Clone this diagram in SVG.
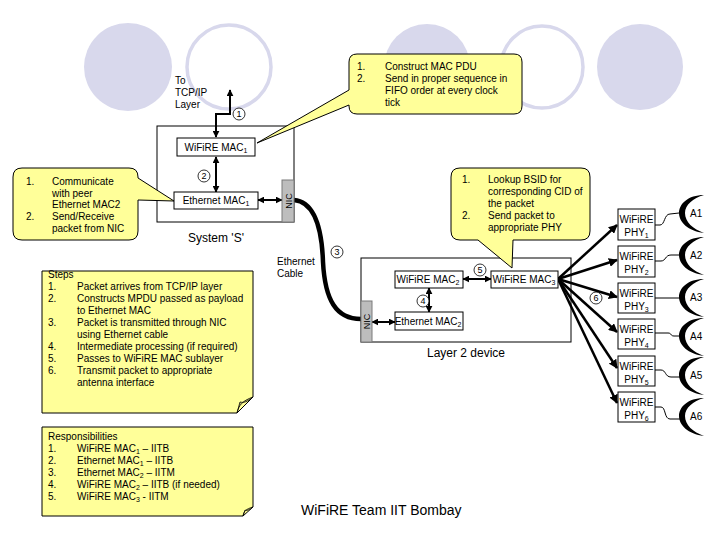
<svg xmlns="http://www.w3.org/2000/svg" width="720" height="540" viewBox="0 0 720 540">
<style>
text{font-family:"Liberation Sans",Arial,sans-serif;font-size:10px;fill:#000}
.box{fill:#fff;stroke:#000;stroke-width:1}
.frame{fill:none;stroke:#000;stroke-width:1}
.call{fill:#ffff99;stroke:#000;stroke-width:1}
.nic{fill:#bdbdbd;stroke:#7a7a7a;stroke-width:1}
.dbl{fill:none;stroke:#000;stroke-width:2;marker-start:url(#ah);marker-end:url(#ah)}
.fan{fill:none;stroke:#000;stroke-width:2.5;marker-end:url(#ah2)}
.num{fill:#fff;stroke:#000;stroke-width:0.8}
.nt{font-size:9px;text-anchor:middle}
.wig{fill:none;stroke:#000;stroke-width:1}
.ant{fill:#000}
.fold{fill:#c9c57a;stroke:#000;stroke-width:0.8}
.lav{fill:#d8d8ec}
.lavo{fill:none;stroke:#d8d8ec;stroke-width:3.5}
.c{text-anchor:middle}
</style>
<defs>
<marker id="ah" viewBox="0 0 10 10" refX="9" refY="5" markerWidth="7" markerHeight="7" markerUnits="userSpaceOnUse" orient="auto-start-reverse"><path d="M0,0 L10,5 L0,10 Z" fill="#000"/></marker>
<marker id="ah2" viewBox="0 0 10 10" refX="9" refY="5" markerWidth="9" markerHeight="9" markerUnits="userSpaceOnUse" orient="auto"><path d="M0,0 L10,5 L0,10 Z" fill="#000"/></marker>
</defs>
<rect width="720" height="540" fill="#fff"/>
<g id="background">
<circle class="lav" cx="128" cy="67" r="44"/>
<circle class="lavo" cx="229" cy="67" r="42"/>
<circle class="lav" cx="427" cy="67" r="43"/>
<circle class="lavo" cx="542" cy="67" r="41"/>
<circle class="lav" cx="640" cy="67" r="43"/>
</g>
<g id="system-s">
<rect class="frame" x="157" y="126" width="137" height="96"/>
<text class="c" x="216" y="242" style="font-size:12px">System 'S'</text>
</g>
<g id="layer2-device">
<rect class="frame" x="361" y="258" width="210" height="84"/>
<text class="c" x="466" y="357" style="font-size:12px">Layer 2 device</text>
</g>
<g id="to-tcpip">
<text x="175" y="84">To</text>
<text x="175" y="96">TCP/IP</text>
<text x="175" y="108">Layer</text>
</g>
<g id="connectors">
<path class="dbl" d="M216,137 V114 H230 V90"/>
<path class="dbl" d="M216,157 V192"/>
<path class="dbl" d="M258,200 H282"/>
<path class="dbl" d="M372,322 H395"/>
<path class="dbl" d="M429,288 V312"/>
<path class="dbl" d="M463,279 H491"/>
<path d="M294,200 C316,202 322,232 323,262 C325,300 336,319 361,319" fill="none" stroke="#000" stroke-width="4.5"/>
<path class="fan" d="M558,279 L617,225"/>
<path class="fan" d="M558,279 L617,260"/>
<path class="fan" d="M558,279 L617,297"/>
<path class="fan" d="M558,279 L617,332"/>
<path class="fan" d="M558,279 L617,368"/>
<path class="fan" d="M558,279 L617,403"/>
<path class="wig" d="M655,225 H660 C665,225 664,214 670,214 L679,213"/>
<path class="wig" d="M655,261 H661 C666,261 665,255 671,255 L679,255"/>
<path class="wig" d="M655,298 H680"/>
<path class="wig" d="M655,333 H668 C672,333 670,336 674,336 L680,336"/>
<path class="wig" d="M655,370 H661 C666,370 665,377 671,377 L680,377"/>
<path class="wig" d="M655,407 H661 C666,407 664,419 670,419 L681,419"/>
</g>
<g id="wifire-mac1">
<rect class="box" x="177" y="138" width="78" height="18"/>
<text class="c" x="216" y="151">WiFiRE MAC<tspan font-size="7" dy="2">1</tspan></text>
</g>
<g id="ethernet-mac1">
<rect class="box" x="174" y="192" width="84" height="17"/>
<text class="c" x="216" y="204">Ethernet MAC<tspan font-size="7" dy="2">1</tspan></text>
</g>
<g id="nic1">
<rect class="nic" x="282" y="180" width="12" height="42"/>
<text class="c" transform="translate(291.5,201) rotate(-90)" style="font-size:9px">NIC</text>
</g>
<g id="nic2">
<rect class="nic" x="361" y="301" width="11" height="41"/>
<text class="c" transform="translate(370,321.5) rotate(-90)" style="font-size:9px">NIC</text>
</g>
<g id="wifire-mac2">
<rect class="box" x="395" y="271" width="68" height="17"/>
<text class="c" x="428" y="283">WiFiRE MAC<tspan font-size="7" dy="2">2</tspan></text>
</g>
<g id="ethernet-mac2">
<rect class="box" x="395" y="312" width="68" height="18"/>
<text class="c" x="428" y="325">Ethernet MAC<tspan font-size="7" dy="2">2</tspan></text>
</g>
<g id="wifire-mac3">
<rect class="box" x="491" y="271" width="67" height="17"/>
<text class="c" x="524" y="283">WiFiRE MAC<tspan font-size="7" dy="2">3</tspan></text>
</g>
<g id="ethernet-cable-label">
<text x="277" y="265">Ethernet</text>
<text x="277" y="277">Cable</text>
</g>
<g id="step-numbers">
<circle class="num" cx="239" cy="114" r="6"/><text class="nt" x="239" y="117">1</text>
<circle class="num" cx="204" cy="176" r="6"/><text class="nt" x="204" y="179">2</text>
<circle class="num" cx="337" cy="252" r="6"/><text class="nt" x="337" y="255">3</text>
<circle class="num" cx="423" cy="301" r="6"/><text class="nt" x="423" y="304">4</text>
<circle class="num" cx="480" cy="270" r="6"/><text class="nt" x="480" y="273">5</text>
<circle class="num" cx="596" cy="298" r="6"/><text class="nt" x="596" y="301">6</text>
</g>
<g id="phy1"><rect class="box" x="618" y="209" width="37" height="31"/><text class="c" x="636.5" y="223">WiFiRE</text><text class="c" x="636.5" y="236">PHY<tspan font-size="7" dy="2">1</tspan></text></g>
<g id="phy2"><rect class="box" x="618" y="246" width="37" height="31"/><text class="c" x="636.5" y="260">WiFiRE</text><text class="c" x="636.5" y="273">PHY<tspan font-size="7" dy="2">2</tspan></text></g>
<g id="phy3"><rect class="box" x="618" y="283" width="37" height="30"/><text class="c" x="636.5" y="297">WiFiRE</text><text class="c" x="636.5" y="310">PHY<tspan font-size="7" dy="2">3</tspan></text></g>
<g id="phy4"><rect class="box" x="618" y="319" width="37" height="30"/><text class="c" x="636.5" y="333">WiFiRE</text><text class="c" x="636.5" y="346">PHY<tspan font-size="7" dy="2">4</tspan></text></g>
<g id="phy5"><rect class="box" x="618" y="356" width="37" height="30"/><text class="c" x="636.5" y="370">WiFiRE</text><text class="c" x="636.5" y="383">PHY<tspan font-size="7" dy="2">5</tspan></text></g>
<g id="phy6"><rect class="box" x="618" y="392" width="37" height="30"/><text class="c" x="636.5" y="406">WiFiRE</text><text class="c" x="636.5" y="419">PHY<tspan font-size="7" dy="2">6</tspan></text></g>
<g id="a1"><path class="ant" transform="translate(0,213)" d="M704,-18 C688,-18 679,-9 679,0 C679,9 688,18 704,20 C693,16 685,9 685,0 C685,-8 693,-15 704,-18 Z"/><text x="690" y="217">A1</text></g>
<g id="a2"><path class="ant" transform="translate(0,255)" d="M704,-18 C688,-18 679,-9 679,0 C679,9 688,18 704,20 C693,16 685,9 685,0 C685,-8 693,-15 704,-18 Z"/><text x="690" y="259">A2</text></g>
<g id="a3"><path class="ant" transform="translate(0,297)" d="M704,-18 C688,-18 679,-9 679,0 C679,9 688,18 704,20 C693,16 685,9 685,0 C685,-8 693,-15 704,-18 Z"/><text x="690" y="301">A3</text></g>
<g id="a4"><path class="ant" transform="translate(0,336)" d="M704,-18 C688,-18 679,-9 679,0 C679,9 688,18 704,20 C693,16 685,9 685,0 C685,-8 693,-15 704,-18 Z"/><text x="690" y="340">A4</text></g>
<g id="a5"><path class="ant" transform="translate(0,375)" d="M704,-18 C688,-18 679,-9 679,0 C679,9 688,18 704,20 C693,16 685,9 685,0 C685,-8 693,-15 704,-18 Z"/><text x="690" y="379">A5</text></g>
<g id="a6"><path class="ant" transform="translate(0,416)" d="M704,-18 C688,-18 679,-9 679,0 C679,9 688,18 704,20 C693,16 685,9 685,0 C685,-8 693,-15 704,-18 Z"/><text x="690" y="420">A6</text></g>
<g id="callout-mac-pdu">
<path class="call" d="M357,54 H514 Q522,54 522,62 V106 Q522,114 514,114 H357 Q349,114 349,106 V105 L257,143 L349,90 V62 Q349,54 357,54 Z"/>
<text x="357" y="70">1.</text><text x="385" y="70">Construct MAC PDU</text>
<text x="357" y="82">2.</text><text x="385" y="82">Send in proper sequence in</text>
<text x="385" y="94">FIFO order at every clock</text>
<text x="385" y="106">tick</text>
</g>
<g id="callout-lookup">
<path class="call" d="M460,168 H581 Q590,168 590,177 V231 Q590,240 581,240 H513 L512,268 L478,240 H460 Q451,240 451,231 V177 Q451,168 460,168 Z"/>
<text x="462" y="183">1.</text><text x="488" y="183">Lookup BSID for</text>
<text x="488" y="195">corresponding CID of</text>
<text x="488" y="207">the packet</text>
<text x="462" y="219">2.</text><text x="488" y="219">Send packet to</text>
<text x="488" y="231">appropriate PHY</text>
</g>
<g id="callout-communicate">
<path class="call" d="M22,168 H129 Q138,168 138,177 V178 L174,201 L138,200 V231 Q138,240 129,240 H22 Q13,240 13,231 V177 Q13,168 22,168 Z"/>
<text x="26" y="185">1.</text><text x="52" y="185">Communicate</text>
<text x="52" y="197">with peer</text>
<text x="52" y="208">Ethernet MAC2</text>
<text x="26" y="220">2.</text><text x="52" y="220">Send/Receive</text>
<text x="52" y="232">packet from NIC</text>
</g>
<g id="steps-note">
<path class="call" d="M42,271 H253 V397 L237,413 H42 Z"/>
<path class="fold" d="M237,413 C239,405 242,401 253,397 C247,402 244,403 240,402 Z"/>
<text x="48" y="278">Steps</text>
<text x="48" y="290">1.</text><text x="77" y="290">Packet arrives from TCP/IP layer</text>
<text x="48" y="302">2.</text><text x="77" y="302">Constructs MPDU passed as payload</text>
<text x="77" y="314">to Ethernet MAC</text>
<text x="48" y="326">3.</text><text x="77" y="326">Packet is transmitted through NIC</text>
<text x="77" y="338">using Ethernet cable</text>
<text x="48" y="350">4.</text><text x="77" y="350">Intermediate processing (if required)</text>
<text x="48" y="362">5.</text><text x="77" y="362">Passes to WiFiRE MAC sublayer</text>
<text x="48" y="374">6.</text><text x="77" y="374">Transmit packet to appropriate</text>
<text x="77" y="386">antenna interface</text>
</g>
<g id="responsibilities-note">
<path class="call" d="M42,427 H253 V507 L243,516 H42 Z"/>
<path class="fold" d="M243,516 C244,511 246,509 253,507 C249,510 247,511 245,510 Z"/>
<text x="48" y="440">Responsibilities</text>
<text x="48" y="452">1.</text><text x="77" y="452">WiFiRE MAC<tspan font-size="7" dy="2">1</tspan><tspan dy="-2"> – IITB</tspan></text>
<text x="48" y="464">2.</text><text x="77" y="464">Ethernet MAC<tspan font-size="7" dy="2">1</tspan><tspan dy="-2"> – IITB</tspan></text>
<text x="48" y="476">3.</text><text x="77" y="476">Ethernet MAC<tspan font-size="7" dy="2">2</tspan><tspan dy="-2"> – IITM</tspan></text>
<text x="48" y="488">4.</text><text x="77" y="488">WiFiRE MAC<tspan font-size="7" dy="2">2</tspan><tspan dy="-2"> – IITB (if needed)</tspan></text>
<text x="48" y="500">5.</text><text x="77" y="500">WiFiRE MAC<tspan font-size="7" dy="2">3</tspan><tspan dy="-2"> - IITM</tspan></text>
</g>
<g id="footer">
<text x="301" y="515" style="font-size:14px">WiFiRE Team IIT Bombay</text>
</g>
</svg>
